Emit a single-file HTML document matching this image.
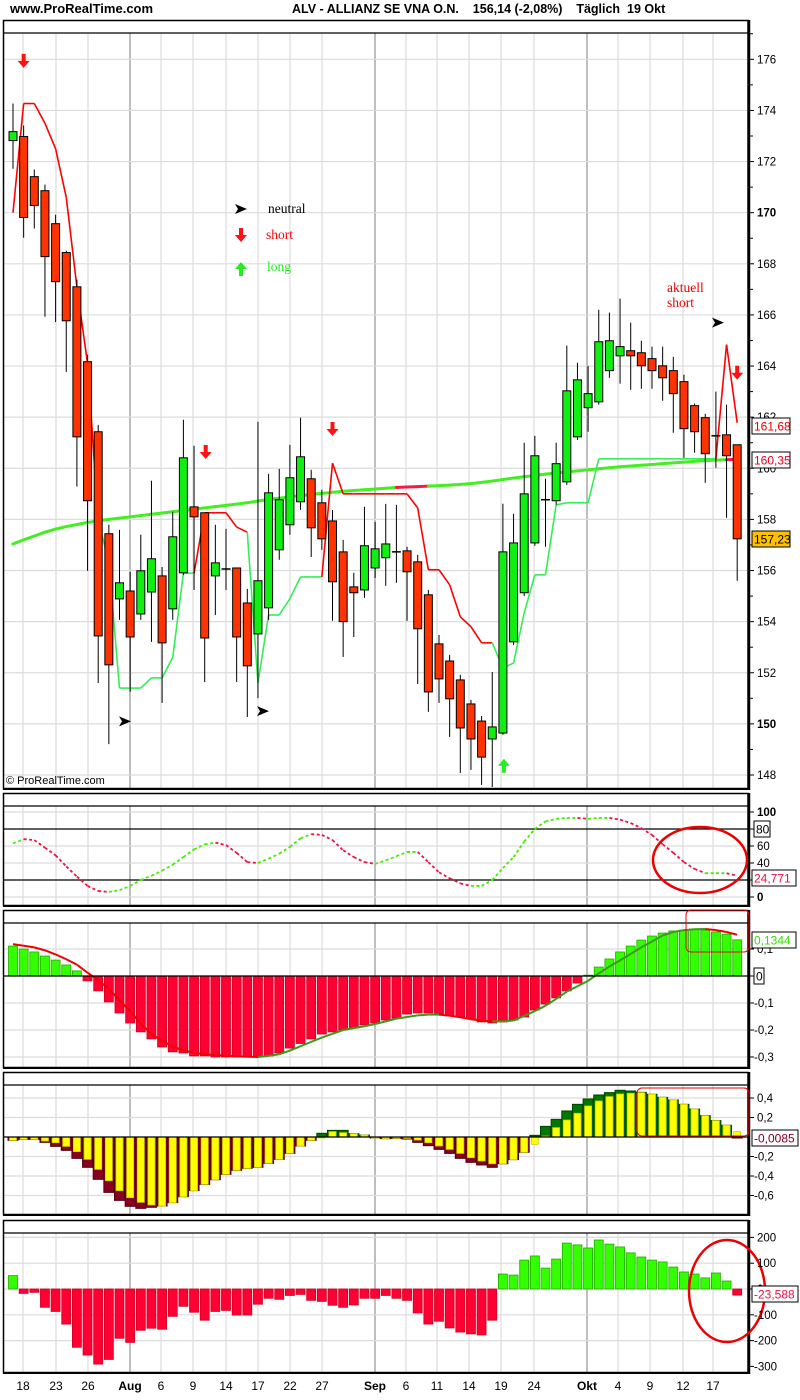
<!DOCTYPE html>
<html><head><meta charset="utf-8"><title>ALV chart</title>
<style>
html,body{margin:0;padding:0;background:#fff;}
svg{display:block;font-family:"Liberation Sans",Arial,sans-serif;}
</style></head>
<body>
<svg id="chart" width="800" height="1400" viewBox="0 0 800 1400" xmlns="http://www.w3.org/2000/svg">
<rect x="0" y="0" width="800" height="1400" fill="#fff"/>
<text x="10" y="13" font-size="13" font-weight="bold">www.ProRealTime.com</text>
<text x="292" y="13" font-size="12.5" font-weight="bold" xml:space="preserve">ALV - ALLIANZ SE VNA O.N.    156,14 (-2,08%)    Täglich  19 Okt</text>
<g id="grid"></g>
<g id="frames"></g>
<g id="marks"></g>
<g id="annot"></g>
<g id="axes"></g>
</svg>
<script>
const dates=["18","23","26","Aug","6","9","14","17","22","27","Sep","6","11","14","19","24","Okt","4","9","12","17"];
const dateX=[23,56,88,130,161,193,226,258,290,322,375,406,437,469,501,534,587,618,650,683,713];
const openP=[172.82,172.98,171.41,170.86,169.57,168.44,167.10,164.17,161.43,157.44,154.89,155.20,154.30,155.16,155.79,154.50,155.91,158.49,158.26,155.79,156.06,156.10,154.73,153.52,154.54,156.81,157.79,158.69,159.59,158.65,157.94,156.73,155.36,155.24,156.10,156.50,156.73,156.77,156.34,155.05,153.13,152.46,151.72,150.78,150.11,149.41,149.64,153.21,155.13,157.08,158.77,158.73,159.47,161.23,162.37,162.60,163.82,164.40,164.60,164.52,164.29,164.01,163.82,163.39,162.45,161.98,161.27,161.31,160.92];
const closeP=[173.17,169.81,170.28,168.28,167.30,165.77,161.23,158.73,153.44,152.31,155.52,153.40,155.99,156.46,153.17,157.32,160.41,158.10,153.36,156.30,156.04,153.40,152.27,155.60,159.04,158.77,159.63,160.45,157.67,157.24,155.56,154.00,155.13,156.97,156.85,157.04,156.73,155.95,153.72,151.25,151.76,150.98,149.84,149.41,148.70,149.88,156.73,157.08,159.00,160.49,158.77,160.18,163.03,163.46,162.92,164.95,164.99,164.76,164.40,164.01,163.82,163.54,162.92,161.55,161.43,160.57,161.25,160.49,157.24];
const highP=[174.27,173.41,171.69,171.10,169.92,168.51,167.38,164.44,161.70,157.79,157.59,155.95,157.40,159.51,156.14,158.30,161.90,160.88,158.26,157.79,157.63,156.10,155.28,161.82,159.78,159.98,160.92,161.98,159.94,159.16,158.37,157.20,155.91,158.49,157.90,158.61,158.57,156.93,156.61,155.24,153.48,152.70,151.92,150.94,150.31,152.03,158.61,158.22,161.00,161.27,159.59,161.00,164.80,164.13,164.01,166.20,166.09,166.64,165.70,164.99,164.76,164.76,164.36,163.66,162.53,162.13,163.00,162.49,160.92];
const lowP=[171.72,169.02,169.38,165.93,165.72,163.77,159.28,155.99,151.60,149.21,154.07,151.25,154.07,153.21,150.82,154.07,155.83,155.24,151.64,154.26,155.24,151.64,150.27,151.01,154.07,156.42,157.40,158.37,156.53,156.81,154.03,152.62,153.40,154.93,155.71,155.40,155.52,154.03,151.56,150.47,150.82,149.49,148.08,148.20,147.61,147.53,149.57,153.09,155.00,156.97,156.93,158.57,159.35,161.11,161.43,162.49,163.54,163.31,163.07,163.11,163.11,162.64,161.39,160.41,160.61,159.43,160.02,158.06,155.60];
const stopVal=[170.0,174.27,174.27,173.5,172.5,170.6,167.1,164.1,158.0,156.3,151.4,151.4,151.4,151.8,151.8,152.6,155.9,155.9,158.26,158.26,158.26,157.7,157.5,151.6,154.26,154.26,154.9,155.75,155.75,155.75,160.2,159.0,159.0,159.0,159.0,159.0,159.0,159.0,158.45,156.03,156.03,155.44,154.19,153.8,153.17,153.17,152.19,152.38,154.34,155.83,155.83,158.57,158.65,158.65,158.65,160.37,160.37,160.37,160.37,160.37,160.37,160.37,160.37,160.37,160.37,160.37,160.37,164.84,161.78];
const stopSide="rrrrrrrrrgggggggggrrrrrgggggggrrrrrrrrrrrrrrrrgggggggggggggggggggggrr";
const maVal=[157.04,157.2,157.35,157.5,157.62,157.72,157.8,157.88,157.95,158.0,158.05,158.1,158.15,158.2,158.25,158.3,158.35,158.4,158.45,158.5,158.55,158.6,158.65,158.72,158.78,158.83,158.88,158.93,158.98,159.02,159.06,159.1,159.13,159.16,159.19,159.22,159.25,159.27,159.28,159.3,159.32,159.34,159.37,159.4,159.45,159.5,159.56,159.62,159.67,159.72,159.77,159.82,159.86,159.9,159.94,159.98,160.02,160.06,160.09,160.12,160.15,160.18,160.21,160.24,160.27,160.3,160.32,160.34,160.35];
const maSide="gggggggggggggggggggggggggggggggggggggrrrggggggggggggggggggggggggggggr";
const oscVal=[63,68,67,58,49,36,24,13,7,6,8,13,20,25,31,38,47,56,62,64,61,52,41,40,45,51,59,69,74,73,67,55,47,41,39,43,48,53,53,41,29,22,16,13,13,20,34,47,65,80,89,92,93,93,92,93,93,91,87,81,73,62,52,41,33,28,28,28,25];
const histVal=[0.111,0.1,0.089,0.074,0.059,0.041,0.019,-0.018,-0.055,-0.096,-0.137,-0.174,-0.207,-0.233,-0.263,-0.281,-0.285,-0.296,-0.296,-0.3,-0.3,-0.3,-0.3,-0.3,-0.296,-0.285,-0.267,-0.25,-0.233,-0.215,-0.207,-0.2,-0.193,-0.181,-0.174,-0.163,-0.156,-0.141,-0.137,-0.137,-0.141,-0.148,-0.152,-0.159,-0.17,-0.174,-0.17,-0.163,-0.152,-0.126,-0.104,-0.081,-0.055,-0.026,0.003,0.033,0.063,0.089,0.111,0.133,0.148,0.159,0.167,0.17,0.174,0.17,0.163,0.155,0.134];
const sigVal=[0.118,0.112,0.106,0.095,0.08,0.062,0.042,0.012,-0.015,-0.048,-0.09,-0.13,-0.177,-0.215,-0.24,-0.262,-0.275,-0.285,-0.29,-0.293,-0.295,-0.297,-0.299,-0.3,-0.296,-0.29,-0.276,-0.26,-0.244,-0.228,-0.214,-0.2,-0.193,-0.186,-0.178,-0.168,-0.158,-0.152,-0.146,-0.143,-0.143,-0.147,-0.153,-0.16,-0.165,-0.168,-0.168,-0.165,-0.148,-0.13,-0.11,-0.085,-0.058,-0.038,-0.018,0.01,0.035,0.058,0.082,0.106,0.128,0.15,0.163,0.17,0.173,0.174,0.17,0.163,0.153];
const yellowVal=[-0.034,-0.024,-0.024,-0.041,-0.058,-0.096,-0.15,-0.229,-0.332,-0.448,-0.55,-0.622,-0.67,-0.697,-0.708,-0.673,-0.612,-0.55,-0.486,-0.438,-0.383,-0.342,-0.321,-0.311,-0.27,-0.229,-0.168,-0.092,-0.034,0.0,0.055,0.044,0.034,0.02,-0.007,-0.017,-0.014,-0.014,-0.031,-0.058,-0.092,-0.127,-0.168,-0.212,-0.246,-0.274,-0.274,-0.232,-0.157,-0.075,0.01,0.096,0.174,0.243,0.318,0.369,0.414,0.441,0.448,0.455,0.438,0.407,0.38,0.335,0.287,0.219,0.168,0.12,0.055];
const darkVal=[-0.034,-0.024,-0.024,-0.055,-0.096,-0.137,-0.219,-0.311,-0.434,-0.568,-0.65,-0.711,-0.732,-0.721,-0.708,-0.673,-0.612,-0.55,-0.486,-0.438,-0.383,-0.342,-0.321,-0.311,-0.27,-0.229,-0.168,-0.092,-0.034,0.038,0.068,0.068,0.034,0.02,-0.007,-0.017,-0.014,-0.021,-0.055,-0.089,-0.127,-0.168,-0.219,-0.26,-0.287,-0.311,-0.274,-0.232,-0.157,0.017,0.109,0.181,0.267,0.335,0.39,0.431,0.455,0.479,0.472,0.458,0.438,0.407,0.38,0.335,0.287,0.219,0.168,0.12,-0.0085];
const momVal=[52,-17,-13,-71,-87,-136,-226,-256,-291,-273,-191,-207,-160,-152,-156,-106,-67,-90,-121,-87,-83,-101,-101,-59,-36,-40,-25,-21,-44,-48,-63,-71,-62,-36,-36,-25,-36,-44,-93,-136,-125,-151,-167,-174,-178,-121,58,54,112,128,81,116,178,171,159,190,174,163,140,124,112,105,85,66,58,43,62,31,-23.6];
const priceTicks=[176,174,172,170,168,166,164,162,160,158,156,154,152,150,148];
const oscTicks=[100,80,60,40,20,0];
const histTicks=[0.1,0,-0.1,-0.2,-0.3];
const p3Ticks=[0.4,0.2,-0.2,-0.4,-0.6];
const momTicks=[200,100,-100,-200,-300];

const NS="http://www.w3.org/2000/svg";
function el(tag,attrs,parent){const e=document.createElementNS(NS,tag);for(const k in attrs)e.setAttribute(k,attrs[k]);(parent||document.getElementById('marks')).appendChild(e);return e;}
const xOf=i=>13+i*10.65;
const yMain=p=>775-(p-148)*25.56;
const yOsc=v=>897-v*0.85;
const yHist=v=>976-v*270;
const yP3=v=>1137-v*97.5;
const yMom=v=>1289-v*0.258;
const G=document.getElementById('grid'),F=document.getElementById('frames'),A=document.getElementById('axes'),N=document.getElementById('annot');
const fmt=v=>String(v).replace('.',',');

// panels
const panels=[[20,33,788],[793,806,905],[910,923,1067],[1072,1085,1214],[1220,1233,1372]];
const pnames=['price-panel','stochastic-panel','histogram-panel','macd-panel','momentum-panel'];
panels.forEach((p,k)=>{
  // vertical grid
  dateX.forEach((x,j)=>{
    const month=/[A-Za-z]/.test(dates[j]);
    const l=el('line',{x1:x,x2:x,y1:p[1],y2:p[2],stroke:month?'#a8a8a8':'#dcdcdc','stroke-width':month?1.5:1.2},G);
    
    
  });
});
function hgrid(y,x1,x2,c,w){const l=el('line',{x1:x1||3,x2:x2||748,y1:y,y2:y,stroke:c||'#dcdcdc','stroke-width':w||1.2},G);
  
  }
priceTicks.forEach(t=>hgrid(yMain(t)));
[100,60,40,0].forEach(t=>hgrid(yOsc(t)));
[80,20].forEach(t=>hgrid(yOsc(t),3,748,'#000',1.3));
[0.1,-0.1,-0.2,-0.3].forEach(t=>hgrid(yHist(t)));
[0.4,0.2,-0.2,-0.4,-0.6].forEach(t=>hgrid(yP3(t)));
[200,100,-100,-200].forEach(t=>hgrid(yMom(t)));
hgrid(yMom(0),3,748,'#dcdcdc',1.2);

panels.forEach((p,k)=>{
  const r=el('rect',{x:3.5,y:p[0]+0.5,width:744.5,height:p[2]-p[0],fill:'none',stroke:'#000','stroke-width':1.5},F);
  
  
  const l=el('line',{x1:3,x2:748,y1:p[1],y2:p[1],stroke:'#000','stroke-width':1.3},F);
  
  
  const a=el('line',{x1:749,x2:749,y1:p[0],y2:p[2]+2,stroke:'#000','stroke-width':2.5},F);
  
  
  const b=el('line',{x1:3,x2:749,y1:p[2]+1,y2:p[2]+1,stroke:'#000','stroke-width':2},F);
  
  
});

// MA line
for(let i=1;i<maVal.length;i++){
  const s=el('line',{x1:xOf(i-1),y1:yMain(maVal[i-1]),x2:xOf(i),y2:yMain(maVal[i]),stroke:maSide[i]==='r'?'#ff1744':'#44ee22','stroke-width':3,'stroke-linecap':'round'});
  
  
}
// stop line
for(let i=1;i<stopVal.length;i++){
  const s=el('line',{x1:xOf(i-1),y1:yMain(stopVal[i-1]),x2:xOf(i),y2:yMain(stopVal[i]),stroke:stopSide[i]==='r'?'#ff0000':'#33ee55','stroke-width':1.6});
  
  
}
// candles
for(let i=0;i<openP.length;i++){
  const x=xOf(i),o=openP[i],c=closeP[i];
  const w=el('line',{x1:x,x2:x,y1:yMain(highP[i]),y2:yMain(lowP[i]),stroke:'#000','stroke-width':1});
  
  
  if(Math.abs(c-o)<0.05){
    const d=el('line',{x1:x-4.5,x2:x+4.5,y1:yMain(o),y2:yMain(o),stroke:'#000','stroke-width':1.5});
    
    
  } else {
    const top=yMain(Math.max(o,c)),bot=yMain(Math.min(o,c));
    const b=el('rect',{x:x-4,y:top,width:8,height:Math.max(bot-top,2),fill:c>o?'#11ee11':'#ff3300',stroke:'#000','stroke-width':1});
    
    
  }
}
// oscillator panel
for(let i=1;i<oscVal.length;i++){
  const s=el('line',{x1:xOf(i-1),y1:yOsc(oscVal[i-1]),x2:xOf(i),y2:yOsc(oscVal[i]),stroke:oscVal[i]>=oscVal[i-1]?'#44ee00':'#ee1144','stroke-width':1.8,'stroke-dasharray':'3,2.5'});
  
  
}
// hist panel
for(let i=0;i<histVal.length;i++){
  const v=histVal[i],y0=yHist(0),y1=yHist(v);
  const b=el('rect',{x:xOf(i)-4.5,y:Math.min(y0,y1),width:9,height:Math.max(Math.abs(y1-y0),1),fill:v>=0?'#33ff00':'#ff0033',stroke:v>=0?'#22aa00':'#cc0022','stroke-width':0.8});
  
  
}
for(let i=1;i<sigVal.length;i++){
  const s=el('line',{x1:xOf(i-1),y1:yHist(sigVal[i-1]),x2:xOf(i),y2:yHist(sigVal[i]),stroke:sigVal[i]<sigVal[i-1]?'#ee0000':'#3a9a1a','stroke-width':2});
  
  
}
const z2=el('line',{x1:3,x2:748,y1:yHist(0),y2:yHist(0),stroke:'#000','stroke-width':1.3});


// p3
for(let i=0;i<darkVal.length;i++){
  const x=xOf(i),y0=yP3(0);
  const d=darkVal[i],yv=yellowVal[i];
  const dc=d>=0?'#007700':'#880022',ds=d>=0?'#004400':'#550011';
  const b=el('rect',{x:x-5,y:Math.min(y0,yP3(d)),width:10,height:Math.max(Math.abs(yP3(d)-y0),1),fill:dc,stroke:ds,'stroke-width':1});
  
  
  const yb=el('rect',{x:x-3.5,y:Math.min(y0,yP3(yv)),width:7,height:Math.max(Math.abs(yP3(yv)-y0),1),fill:'#ffff00',stroke:'#cccc00','stroke-width':0.8});
  
  
}
const z3=el('line',{x1:3,x2:748,y1:yP3(0),y2:yP3(0),stroke:'#000','stroke-width':1.2});


// momentum
for(let i=0;i<momVal.length;i++){
  const v=momVal[i],y0=yMom(0),y1=yMom(v);
  const b=el('rect',{x:xOf(i)-4.5,y:Math.min(y0,y1),width:9,height:Math.max(Math.abs(y1-y0),1),fill:v>=0?'#33ff00':'#ff0033',stroke:v>=0?'#22aa00':'#cc0022','stroke-width':0.8});
  
  
}

// axes labels
function label(txt,y,opts){opts=opts||{};
  const t=el('text',{x:opts.x||757,y:y+4,'font-size':opts.size||11.5,'font-weight':opts.bold?'bold':'normal',fill:opts.fill||'#000'},A);
  t.textContent=txt;
  
  
  const k=el('line',{x1:749,x2:754,y1:y,y2:y,stroke:'#000','stroke-width':1},A);
  
  
}
priceTicks.forEach(t=>{label(String(t),yMain(t),{bold:t===150||t===170});
  const k=el('line',{x1:749,x2:753,y1:yMain(t+1),y2:yMain(t+1),stroke:'#000'},A);
  
  });
oscTicks.forEach(t=>label(String(t),yOsc(t),{bold:t===100||t===0}));
histTicks.forEach(t=>label(fmt(t),yHist(t),{x:t<0?754:757}));
p3Ticks.forEach(t=>label(fmt(t),yP3(t),{x:t<0?754:757}));
momTicks.forEach(t=>label(String(t),yMom(t),{x:t<0?754:757}));
label('0',yMom(0));
dates.forEach((d,j)=>{
  const t=el('text',{x:dateX[j],y:1390,'font-size':12,'text-anchor':'middle','font-weight':/[A-Za-z]/.test(d)?'bold':'normal'},A);
  t.textContent=d;
  
  
});

// value boxes
function box(txt,y,fill,color,x,w){
  const r=el('rect',{x:x||752,y:y-8,width:w||38,height:16,fill:fill,stroke:'#000','stroke-width':1},A);
  
  
  const t=el('text',{x:(x||752)+2,y:y+4.5,'font-size':12,fill:color},A);
  t.textContent=txt;
  
  
}
box('161,68',426,'#fff','#ee0000');
box('160,35',460,'#fff','#ee0022');
box('157,23',539,'#ffc000','#000');
box('80',829,'#fff','#000',754,16);
box('24,771',878,'#fff','#ee1144',752,44);
box('0,1344',940,'#fff','#33dd00',752,44);
box('0',976,'#fff','#000',754,10);
box('-0,0085',1138,'#fff','#880022',752,46);
box('-23,588',1294,'#fff','#ee1144',752,46);

// annotations
function arrowDown(x,y){const p=el('path',{d:`M${x-2},${y-8}h4v7h4l-6,7l-6,-7h4z`,fill:'#ff1111'},N);
  
  }
function arrowUp(x,y){const p=el('path',{d:`M${x-2},${y+8}h4v-7h4l-6,-7l-6,7h4z`,fill:'#22ee22'},N);
  
  }
function arrowRight(x,y){const p=el('path',{d:`M${x-6},${y-5}l12,5l-12,5l3,-5z`,fill:'#000'},N);
  
  }
arrowDown(xOf(1),yMain(175.9));
arrowDown(xOf(18)+1,yMain(160.6));
arrowDown(xOf(30),yMain(161.5));
arrowDown(xOf(68),yMain(163.7));
arrowRight(125,yMain(150.1));
arrowRight(263,yMain(150.5));
arrowRight(718,yMain(165.7));
arrowUp(xOf(46)+1,yMain(148.4));
arrowRight(241,209);arrowDown(241,236);arrowUp(241,268);
[['neutral',268,213,'#000'],['short',266,239,'#ff0000'],['long',267,271,'#22ee22'],['aktuell',667,292,'#ee0000'],['short',667,307,'#ee0000']].forEach(a=>{
  const t=el('text',{x:a[1],y:a[2],'font-size':13.5,fill:a[3],'font-family':'"Liberation Serif",serif'},N);
  t.textContent=a[0];
  
  
});
const cp=el('text',{x:6,y:784,'font-size':11},N);
cp.textContent='© ProRealTime.com';


const e1=el('ellipse',{cx:700,cy:860,rx:47,ry:33,fill:'none',stroke:'#ee0000','stroke-width':2.5},N);


const r2=el('rect',{x:686,y:910,width:63,height:42,rx:5,fill:'none',stroke:'#ee0000','stroke-width':1},N);


const r3=el('rect',{x:637,y:1088,width:112,height:48,rx:5,fill:'none',stroke:'#ee0000','stroke-width':1},N);


const e4=el('ellipse',{cx:727,cy:1291,rx:38,ry:51,fill:'none',stroke:'#ee0000','stroke-width':2.5},N);


</script>
</body></html>
